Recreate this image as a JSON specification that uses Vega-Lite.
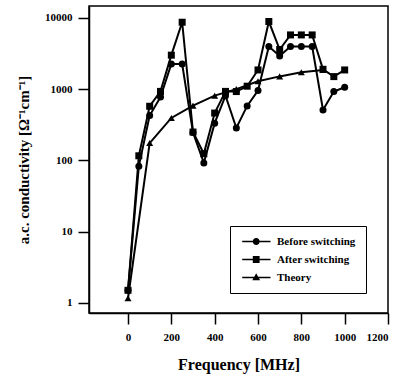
{
  "$schema": "https://vega.github.io/schema/vega-lite/v6.json",
  "width": 299,
  "height": 307,
  "autosize": "none",
  "padding": {"left": 89, "top": 6, "right": 14, "bottom": 68},
  "background": "white",
  "config": {
    "font": "Liberation Serif",
    "view": {"stroke": "black", "strokeWidth": 1.5},
    "axis": {
      "grid": false,
      "domainColor": "black",
      "domainWidth": 1.5,
      "tickColor": "black",
      "tickWidth": 1.5,
      "tickSize": 11,
      "labelFont": "Liberation Serif",
      "labelFontWeight": "bold",
      "labelFontSize": 11,
      "labelColor": "black",
      "titleFont": "Liberation Serif",
      "titleFontWeight": "bold",
      "titleColor": "black"
    }
  },
  "data": {
    "values": [
      {"f": 0, "v": 1.5, "s": "Before switching"},
      {"f": 50, "v": 83, "s": "Before switching"},
      {"f": 100, "v": 425, "s": "Before switching"},
      {"f": 150, "v": 775, "s": "Before switching"},
      {"f": 200, "v": 2250, "s": "Before switching"},
      {"f": 250, "v": 2250, "s": "Before switching"},
      {"f": 300, "v": 246, "s": "Before switching"},
      {"f": 350, "v": 92, "s": "Before switching"},
      {"f": 400, "v": 333, "s": "Before switching"},
      {"f": 450, "v": 810, "s": "Before switching"},
      {"f": 500, "v": 285, "s": "Before switching"},
      {"f": 550, "v": 582, "s": "Before switching"},
      {"f": 600, "v": 955, "s": "Before switching"},
      {"f": 650, "v": 3960, "s": "Before switching"},
      {"f": 700, "v": 2930, "s": "Before switching"},
      {"f": 750, "v": 3960, "s": "Before switching"},
      {"f": 800, "v": 3960, "s": "Before switching"},
      {"f": 850, "v": 3960, "s": "Before switching"},
      {"f": 900, "v": 510, "s": "Before switching"},
      {"f": 950, "v": 925, "s": "Before switching"},
      {"f": 1000, "v": 1065, "s": "Before switching"},
      {"f": 0, "v": 1.5, "s": "After switching"},
      {"f": 50, "v": 116, "s": "After switching"},
      {"f": 100, "v": 575, "s": "After switching"},
      {"f": 150, "v": 930, "s": "After switching"},
      {"f": 200, "v": 3000, "s": "After switching"},
      {"f": 250, "v": 8700, "s": "After switching"},
      {"f": 300, "v": 250, "s": "After switching"},
      {"f": 350, "v": 124, "s": "After switching"},
      {"f": 400, "v": 462, "s": "After switching"},
      {"f": 450, "v": 930, "s": "After switching"},
      {"f": 500, "v": 925, "s": "After switching"},
      {"f": 550, "v": 1100, "s": "After switching"},
      {"f": 600, "v": 1860, "s": "After switching"},
      {"f": 650, "v": 8900, "s": "After switching"},
      {"f": 700, "v": 3600, "s": "After switching"},
      {"f": 750, "v": 5770, "s": "After switching"},
      {"f": 800, "v": 5770, "s": "After switching"},
      {"f": 850, "v": 5770, "s": "After switching"},
      {"f": 900, "v": 1900, "s": "After switching"},
      {"f": 950, "v": 1500, "s": "After switching"},
      {"f": 1000, "v": 1860, "s": "After switching"},
      {"f": 0, "v": 1.16, "s": "Theory"},
      {"f": 100, "v": 175, "s": "Theory"},
      {"f": 200, "v": 394, "s": "Theory"},
      {"f": 300, "v": 587, "s": "Theory"},
      {"f": 400, "v": 810, "s": "Theory"},
      {"f": 500, "v": 1000, "s": "Theory"},
      {"f": 600, "v": 1290, "s": "Theory"},
      {"f": 700, "v": 1510, "s": "Theory"},
      {"f": 800, "v": 1730, "s": "Theory"},
      {"f": 900, "v": 1860, "s": "Theory"}
    ]
  },
  "encoding": {
    "x": {
      "field": "f",
      "type": "quantitative",
      "scale": {"domain": [-180, 1200], "nice": false, "zero": false},
      "axis": {
        "values": [0, 200, 400, 600, 800, 1000, 1200],
        "format": "d",
        "labelPadding": 7,
        "title": "Frequency [MHz]",
        "titleFontSize": 16,
        "titlePadding": 14
      }
    },
    "y": {
      "field": "v",
      "type": "quantitative",
      "scale": {"type": "log", "domain": [0.72, 14700], "nice": false},
      "axis": {
        "values": [1, 10, 100, 1000, 10000],
        "format": "d",
        "labelPadding": 6,
        "title": "a.c. conductivity [Ω⁻¹cm⁻¹]",
        "titleFontSize": 15,
        "titlePadding": 13
      }
    }
  },
  "layer": [
    {
      "mark": {"type": "line", "color": "black", "strokeWidth": 2},
      "encoding": {"detail": {"field": "s"}}
    },
    {
      "mark": {"type": "point", "filled": true, "color": "black", "size": 49, "opacity": 1},
      "encoding": {
        "shape": {
          "field": "s",
          "scale": {"domain": ["Before switching", "After switching", "Theory"], "range": ["circle", "square", "triangle-up"]},
          "legend": null
        }
      }
    },
    {
      "mark": {"type": "point", "filled": true, "color": "black", "size": 100, "opacity": 0},
      "encoding": {
        "shape": {
          "field": "s",
          "scale": {
            "domain": ["Before switching", "After switching", "Theory"],
            "range": [
              "M-0.66,-0.16H5V0.16H-0.66ZM2.84,0A0.7,0.7,0,1,1,1.44,0A0.7,0.7,0,1,1,2.84,0Z",
              "M-0.66,-0.16H5V0.16H-0.66ZM1.46,-0.68H2.82V0.68H1.46Z",
              "M-0.66,-0.16H5V0.16H-0.66ZM2.14,-0.85L2.92,0.55H1.36Z"
            ]
          },
          "legend": {
            "title": null,
            "orient": "none",
            "legendX": 141,
            "legendY": 220,
            "padding": 10,
            "strokeColor": "black",
            "fillColor": "white",
            "symbolSize": 100,
            "symbolFillColor": "black",
            "symbolStrokeWidth": 0,
            "symbolOpacity": 1,
            "labelFont": "Liberation Serif",
            "labelFontWeight": "bold",
            "labelFontSize": 11,
            "labelColor": "black",
            "labelOffset": 26,
            "rowPadding": 6
          }
        }
      }
    }
  ],
  "resolve": {"scale": {"shape": "independent"}}
}
